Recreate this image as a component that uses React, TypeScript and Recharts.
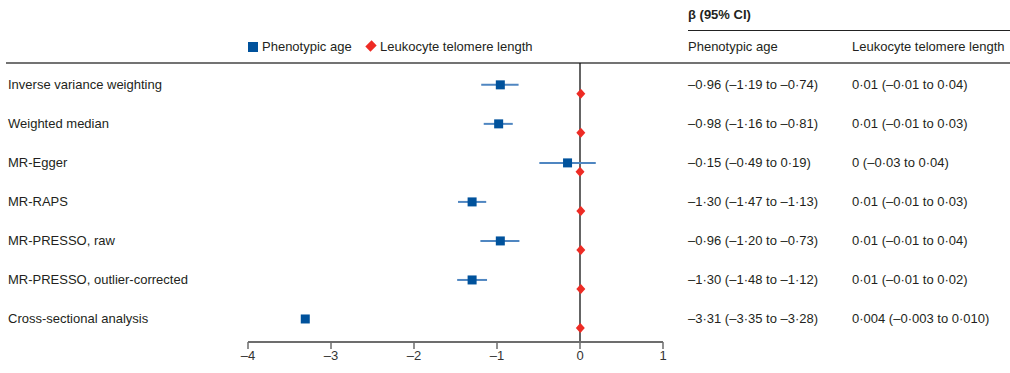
import React from "react";
import {
  ScatterChart,
  Scatter,
  XAxis,
  YAxis,
  ErrorBar,
  ReferenceLine,
} from "recharts";

const rowLabels = [
  "Inverse variance weighting",
  "Weighted median",
  "MR-Egger",
  "MR-RAPS",
  "MR-PRESSO, raw",
  "MR-PRESSO, outlier-corrected",
  "Cross-sectional analysis",
];

const paEst = [-0.96, -0.98, -0.15, -1.3, -0.96, -1.3, -3.31];
const paLow = [-1.19, -1.16, -0.49, -1.47, -1.2, -1.48, -3.35];
const paHigh = [-0.74, -0.81, 0.19, -1.13, -0.73, -1.12, -3.28];

const ltlEst = [0.01, 0.01, 0, 0.01, 0.01, 0.01, 0.004];
const ltlLow = [-0.01, -0.01, -0.03, -0.01, -0.01, -0.01, -0.003];
const ltlHigh = [0.04, 0.03, 0.04, 0.03, 0.04, 0.02, 0.01];

const paText = [
  "–0·96 (–1·19 to –0·74)",
  "–0·98 (–1·16 to –0·81)",
  "–0·15 (–0·49 to 0·19)",
  "–1·30 (–1·47 to –1·13)",
  "–0·96 (–1·20 to –0·73)",
  "–1·30 (–1·48 to –1·12)",
  "–3·31 (–3·35 to –3·28)",
];
const ltlText = [
  "0·01 (–0·01 to 0·04)",
  "0·01 (–0·01 to 0·03)",
  "0 (–0·03 to 0·04)",
  "0·01 (–0·01 to 0·03)",
  "0·01 (–0·01 to 0·04)",
  "0·01 (–0·01 to 0·02)",
  "0·004 (–0·003 to 0·010)",
];

const xTicks = [-4, -3, -2, -1, 0, 1];

const BLUE = "#00529c";
const BLUE_CI = "#4f86c1";
const RED = "#ee2b24";
const TEXT = "#231f20";

// layout
const W = 1010;
const H = 373;
const PLOT_TOP = 63;
const PLOT_BOTTOM = 342;
const PLOT_LEFT = 248;
const PLOT_RIGHT = 663;
const Y_MIN = -0.56;
const Y_MAX = 6.59;
const LTL_OFFSET = 0.23;

const rowY = (i: number) =>
  PLOT_TOP + ((i - Y_MIN) / (Y_MAX - Y_MIN)) * (PLOT_BOTTOM - PLOT_TOP);

const paData = rowLabels.map((_, i) => ({
  x: paEst[i],
  y: i,
  err: [paEst[i] - paLow[i], paHigh[i] - paEst[i]],
}));

const ltlData = rowLabels.map((_, i) => ({
  x: ltlEst[i],
  y: i + LTL_OFFSET,
  err: [ltlEst[i] - ltlLow[i], ltlHigh[i] - ltlEst[i]],
}));

const Square = (props: any) => {
  const { cx, cy } = props;
  return <rect x={cx - 4.5} y={cy - 4.5} width={9} height={9} fill={BLUE} />;
};

const Diamond = (props: any) => {
  const { cx, cy } = props;
  return (
    <polygon
      points={`${cx},${cy - 5} ${cx + 4.5},${cy} ${cx},${cy + 5} ${cx - 4.5},${cy}`}
      fill={RED}
    />
  );
};

const txt = (left: number, top: number, s: string, extra: React.CSSProperties = {}) => (
  <div
    key={`${left}-${top}-${s}`}
    style={{
      position: "absolute",
      left,
      top: top - 8,
      lineHeight: "16px",
      whiteSpace: "nowrap",
      fontSize: 13,
      color: TEXT,
      ...extra,
    }}
  >
    {s}
  </div>
);

export default function App() {
  return (
    <div
      style={{
        position: "absolute",
        left: 0,
        top: 0,
        width: W,
        height: H,
        background: "#fff",
        fontFamily: "'Liberation Sans', Arial, sans-serif",
      }}
    >
      {/* header */}
      {txt(688, 15, "β (95% CI)", { fontWeight: 700 })}
      <div style={{ position: "absolute", left: 688, top: 30, width: W - 688, height: 1, background: "#222" }} />
      {txt(688, 47, "Phenotypic age")}
      {txt(852, 47, "Leukocyte telomere length")}

      {/* legend */}
      <div style={{ position: "absolute", left: 248, top: 42, width: 10, height: 10, background: BLUE }} />
      {txt(262, 47, "Phenotypic age")}
      <div
        style={{
          position: "absolute",
          left: 367,
          top: 42,
          width: 8,
          height: 8,
          background: RED,
          transform: "rotate(45deg) scale(0.9, 1.1)",
        }}
      />
      {txt(380, 47, "Leukocyte telomere length")}

      <div style={{ position: "absolute", left: 6, top: 62, width: W - 6, height: 2, background: "#737373" }} />

      {rowLabels.map((l, i) => txt(8, rowY(i), l))}
      {paText.map((t, i) => txt(688, rowY(i), t))}
      {ltlText.map((t, i) => txt(852, rowY(i), t))}

      <div style={{ position: "absolute", left: 0, top: 0 }}>
        <ScatterChart
          width={W}
          height={H}
          margin={{ top: PLOT_TOP, right: W - PLOT_RIGHT, bottom: H - PLOT_BOTTOM - 30, left: PLOT_LEFT }}
        >
          <XAxis
            type="number"
            dataKey="x"
            domain={[-4, 1]}
            ticks={xTicks}
            interval={0}
            height={30}
            axisLine={{ stroke: "#6d6d6d", strokeWidth: 2 }}
            tickLine={{ stroke: "#6d6d6d", strokeWidth: 1.5 }}
            tickSize={7}
            tickMargin={2}
            tick={{ fill: "#333", fontSize: 13, fontFamily: "'Liberation Sans', Arial, sans-serif" }}
            tickFormatter={(v: number) => String(v).replace("-", "–")}
          />
          <YAxis type="number" dataKey="y" domain={[Y_MIN, Y_MAX]} reversed hide />
          <ReferenceLine x={0} stroke="#111" strokeWidth={1.3} />
          <Scatter data={paData} shape={Square} isAnimationActive={false}>
            <ErrorBar dataKey="err" direction="x" width={0} stroke={BLUE_CI} strokeWidth={2} />
          </Scatter>
          <Scatter data={ltlData} shape={Diamond} isAnimationActive={false}>
            <ErrorBar dataKey="err" direction="x" width={0} stroke={RED} strokeWidth={2} />
          </Scatter>
        </ScatterChart>
      </div>
    </div>
  );
}
